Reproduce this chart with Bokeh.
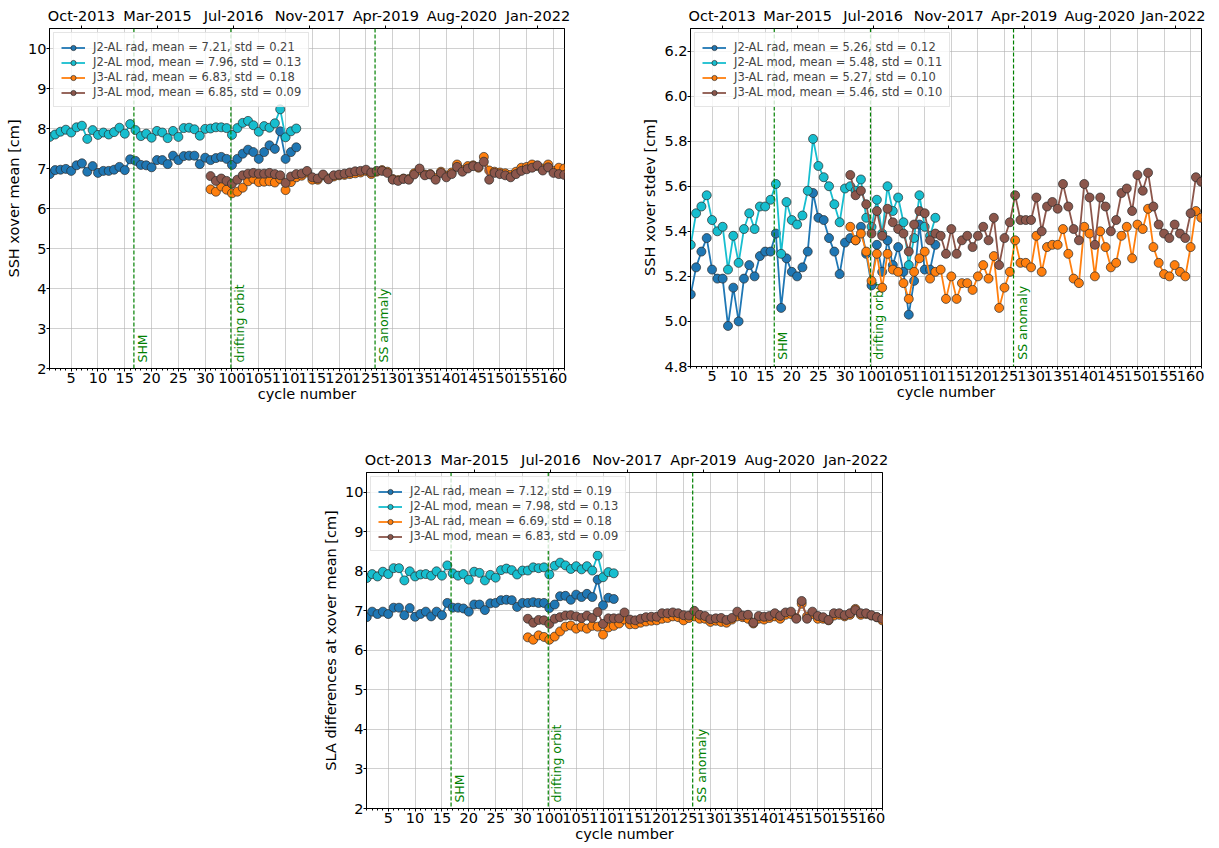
import math
from bokeh.plotting import figure
from bokeh.models import (Range1d, LinearAxis, FixedTicker, Legend, LegendItem,
                          Span, Spacer)
from bokeh.layouts import column, row
from bokeh.embed import file_html
from bokeh.resources import INLINE
from bokeh.core.properties import value

# ---------------- data ----------------
j2_cycles = list(range(1, 35)) + list(range(100, 113))
j3_cycles = list(range(31, 35)) + list(range(100, 163))

cycle_ticks = [5, 10, 15, 20, 25, 30, 100, 105, 110, 115, 120, 125, 130,
               135, 140, 145, 150, 155, 160]
date_labels = ["Oct-2013", "Mar-2015", "Jul-2016", "Nov-2017", "Apr-2019",
               "Aug-2020", "Jan-2022"]
date_tick_cycles = [6.9, 21.1, 100.3, 114.5, 128.7, 142.9, 157.1]
event_names = ["SHM", "drifting orbit", "SS anomaly"]
event_cycles = [16.7, 99.8, 126.7]
series_names = ["J2-AL rad", "J2-AL mod", "J3-AL rad", "J3-AL mod"]

# panel 1: SSH xover mean
p1_j2_rad = [6.86, 6.96, 6.97, 6.99, 6.94, 7.08, 7.13, 6.92, 7.06, 6.89,
             6.94, 6.94, 6.97, 7.04, 6.96, 7.23, 7.19, 7.09, 7.08, 7.03,
             7.21, 7.21, 7.11, 7.32, 7.21, 7.31, 7.32, 7.32, 7.11, 7.27,
             7.21, 7.26, 7.29, 7.24, 7.09, 7.24, 7.37, 7.47, 7.41, 7.24,
             7.41, 7.58, 7.49, 7.93, 7.24, 7.41, 7.53]
p1_j2_mod = [7.79, 7.85, 7.92, 7.97, 7.90, 8.03, 8.07, 7.74, 7.96, 7.84,
             7.90, 7.85, 7.91, 8.02, 7.87, 8.11, 7.96, 7.81, 7.87, 7.77,
             7.94, 7.90, 7.76, 7.94, 7.79, 8.01, 8.02, 7.98, 7.82, 7.99,
             8.00, 8.03, 8.03, 8.01, 7.84, 8.01, 8.14, 8.19, 8.08, 7.92,
             8.06, 8.02, 8.13, 8.48, 7.78, 7.93, 8.00]
p1_j3_rad = [6.48, 6.42, 6.55, 6.47, 6.38, 6.42, 6.52, 6.68, 6.74, 6.66,
             6.67, 6.68, 6.65, 6.74, 6.46, 6.66, 6.78, 6.82, 6.90, 6.72,
             6.72, 6.83, 6.75, 6.80, 6.83, 6.84, 6.86, 6.88, 6.90, 6.94,
             6.86, 6.92, 6.96, 6.92, 6.74, 6.71, 6.75, 6.74, 6.88, 6.96,
             6.85, 6.86, 6.76, 6.92, 6.82, 6.90, 7.10, 6.96, 7.06, 7.08,
             7.02, 7.29, 6.95, 6.92, 6.90, 6.88, 6.84, 6.92, 7.02, 7.04,
             7.10, 7.06, 7.00, 7.10, 6.94, 7.02, 7.00]
p1_j3_mod = [6.81, 6.69, 6.75, 6.69, 6.62, 6.72, 6.83, 6.87, 6.89, 6.87,
             6.87, 6.89, 6.86, 6.83, 6.64, 6.80, 6.86, 6.87, 6.94, 6.78,
             6.75, 6.85, 6.73, 6.83, 6.85, 6.87, 6.90, 6.93, 6.94, 6.97,
             6.90, 6.94, 6.94, 6.89, 6.72, 6.69, 6.74, 6.72, 6.85, 7.00,
             6.83, 6.85, 6.72, 6.89, 6.78, 6.86, 7.04, 6.92, 7.00, 7.06,
             7.04, 7.17, 6.72, 6.89, 6.86, 6.83, 6.78, 6.86, 6.94, 6.98,
             7.02, 7.08, 6.95, 7.03, 6.89, 6.86, 6.84]
p1_means = [7.21, 7.96, 6.83, 6.85]
p1_stds = [0.21, 0.13, 0.18, 0.09]

# panel 2: SSH xover stdev
p2_j2_rad = [5.12, 5.24, 5.31, 5.37, 5.23, 5.19, 5.19, 4.98, 5.15, 5.00,
             5.19, 5.25, 5.20, 5.29, 5.31, 5.31, 5.39, 5.06, 5.28, 5.22,
             5.20, 5.24, 5.31, 5.57, 5.46, 5.45, 5.37, 5.31, 5.21, 5.35,
             5.37, 5.36, 5.42, 5.30, 5.16, 5.34, 5.22, 5.36, 5.25, 5.33,
             5.22, 5.03, 5.18, 5.43, 5.23, 5.23, 5.34]
p2_j2_mod = [5.34, 5.48, 5.51, 5.56, 5.45, 5.40, 5.42, 5.23, 5.38, 5.26,
             5.41, 5.48, 5.41, 5.51, 5.51, 5.54, 5.61, 5.30, 5.53, 5.45,
             5.43, 5.47, 5.58, 5.81, 5.69, 5.64, 5.60, 5.52, 5.44, 5.59,
             5.60, 5.58, 5.63, 5.46, 5.42, 5.54, 5.39, 5.60, 5.49, 5.55,
             5.44, 5.25, 5.37, 5.56, 5.42, 5.38, 5.46]
p2_j3_rad = [5.42, 5.36, 5.39, 5.31, 5.18, 5.30, 5.15, 5.30, 5.23, 5.22,
             5.17, 5.10, 5.22, 5.28, 5.31, 5.19, 5.22, 5.23, 5.10, 5.20,
             5.10, 5.17, 5.17, 5.14, 5.20, 5.25, 5.19, 5.29, 5.06, 5.15,
             5.22, 5.36, 5.26, 5.26, 5.24, 5.38, 5.22, 5.33, 5.34, 5.34,
             5.41, 5.30, 5.19, 5.17, 5.42, 5.39, 5.20, 5.40, 5.33, 5.24,
             5.26, 5.38, 5.42, 5.28, 5.43, 5.41, 5.50, 5.33, 5.26, 5.21,
             5.20, 5.25, 5.22, 5.20, 5.33, 5.49, 5.46]
p2_j3_mod = [5.65, 5.56, 5.58, 5.52, 5.39, 5.49, 5.38, 5.50, 5.44, 5.41,
             5.39, 5.31, 5.43, 5.49, 5.48, 5.36, 5.39, 5.38, 5.30, 5.41,
             5.30, 5.36, 5.38, 5.33, 5.38, 5.42, 5.36, 5.46, 5.25, 5.37,
             5.44, 5.56, 5.45, 5.45, 5.45, 5.55, 5.40, 5.51, 5.53, 5.50,
             5.61, 5.51, 5.41, 5.36, 5.61, 5.55, 5.34, 5.55, 5.51, 5.40,
             5.45, 5.57, 5.59, 5.49, 5.65, 5.58, 5.66, 5.51, 5.43, 5.39,
             5.37, 5.43, 5.39, 5.37, 5.48, 5.64, 5.62]
p2_means = [5.26, 5.48, 5.27, 5.46]
p2_stds = [0.12, 0.11, 0.10, 0.10]

# panel 3: SLA differences at xover mean
p3_j2_rad = [6.84, 6.98, 6.92, 6.98, 6.92, 7.08, 7.08, 6.89, 7.07, 6.85,
             6.92, 6.98, 6.86, 6.98, 6.89, 7.20, 7.08, 7.08, 7.06, 6.98,
             7.16, 7.16, 7.02, 7.19, 7.20, 7.27, 7.28, 7.27, 7.10, 7.20,
             7.20, 7.22, 7.20, 7.20, 7.07, 7.16, 7.37, 7.38, 7.28, 7.41,
             7.35, 7.43, 7.35, 7.79, 7.14, 7.33, 7.30]
p3_j2_mod = [7.83, 7.93, 7.87, 7.99, 7.93, 8.08, 8.08, 7.77, 8.00, 7.87,
             7.92, 7.93, 7.89, 8.00, 7.89, 8.15, 7.95, 7.89, 7.93, 7.79,
             7.99, 7.96, 7.77, 7.91, 7.84, 8.03, 8.07, 8.03, 7.92, 8.02,
             8.02, 8.10, 8.08, 8.10, 7.92, 8.14, 8.22, 8.15, 8.06, 8.13,
             8.05, 8.13, 8.02, 8.40, 7.85, 7.98, 7.95]
p3_j3_rad = [6.33, 6.27, 6.38, 6.34, 6.27, 6.35, 6.48, 6.60, 6.63, 6.55,
             6.60, 6.55, 6.62, 6.60, 6.40, 6.58, 6.62, 6.68, 6.78, 6.66,
             6.66, 6.70, 6.73, 6.75, 6.76, 6.80, 6.82, 6.86, 6.84, 6.76,
             6.82, 6.86, 6.80, 6.80, 6.72, 6.75, 6.72, 6.70, 6.78, 6.86,
             6.84, 6.80, 6.68, 6.80, 6.78, 6.82, 6.86, 6.80, 6.90, 6.92,
             6.82, 7.18, 6.86, 6.92, 6.80, 6.80, 6.76, 6.88, 6.90, 6.86,
             6.90, 7.05, 6.90, 6.92, 6.88, 6.84, 6.76]
p3_j3_mod = [6.80, 6.70, 6.77, 6.76, 6.67, 6.80, 6.84, 6.88, 6.89, 6.86,
             6.82, 6.88, 6.82, 6.97, 6.67, 6.81, 6.81, 6.81, 6.96, 6.78,
             6.76, 6.80, 6.84, 6.85, 6.85, 6.94, 6.94, 6.96, 6.94, 6.89,
             6.88, 7.00, 6.90, 6.87, 6.79, 6.81, 6.82, 6.77, 6.82, 6.98,
             6.88, 6.90, 6.70, 6.87, 6.85, 6.87, 6.94, 6.87, 6.96, 6.98,
             6.80, 7.25, 6.80, 6.98, 6.87, 6.84, 6.77, 6.94, 6.94, 6.89,
             6.94, 7.02, 6.94, 6.94, 6.89, 6.84, 6.80]
p3_means = [7.12, 7.98, 6.69, 6.83]
p3_stds = [0.19, 0.13, 0.18, 0.09]

# ---------------- helpers ----------------
FONT = "DejaVu Sans"
COLORS = ["#1f77b4", "#17becf", "#ff7f0e", "#8c564b"]


def pos(c):
    # cycles of the drifting phase (>= 100) follow directly after cycle 34
    return c if c < 50 else c - 65


X0, X1 = 0.95, 97.05


def make_panel(ylabel, y0, y1, yticks, yfmt, data, means, stds, txt_y,
               b_left, b_right, b_top, b_bottom, fw, fh):
    p = figure(frame_width=fw, frame_height=fh, output_backend="svg",
               toolbar_location=None, x_range=Range1d(X0, X1),
               y_range=Range1d(y0, y1),
               min_border_left=b_left, min_border_right=b_right,
               min_border_top=b_top, min_border_bottom=b_bottom,
               background_fill_color="white", border_fill_color="white")
    p.outline_line_color = "black"
    p.outline_line_width = 1

    # bottom axis: cycle numbers
    xt = [pos(c) for c in cycle_ticks]
    minor = [float(v) for v in range(1, 98)]
    ax = p.xaxis[0]
    ax.ticker = FixedTicker(ticks=xt, minor_ticks=minor)
    ax.major_label_overrides = {pos(c): str(c) for c in cycle_ticks}
    ax.axis_label = "cycle number"

    # top axis: dates
    dpos = [pos(c) for c in date_tick_cycles]
    step = (dpos[-1] - dpos[0]) / (len(dpos) - 1)
    p.extra_x_ranges = {"dates": Range1d((X0 - dpos[0]) / step,
                                         (X1 - dpos[0]) / step)}
    top = LinearAxis(x_range_name="dates",
                     ticker=FixedTicker(ticks=list(range(len(date_labels)))),
                     major_label_overrides={i: l for i, l in enumerate(date_labels)})
    p.add_layout(top, "above")

    p.yaxis.ticker = FixedTicker(ticks=yticks)
    p.yaxis.major_label_overrides = {t: yfmt % t for t in yticks}
    p.yaxis.axis_label = ylabel

    for a in [ax, top, p.yaxis[0]]:
        a.major_label_text_font = FONT
        a.major_label_text_font_size = "14.5px"
        a.major_label_text_color = "black"
        a.axis_label_text_font = FONT
        a.axis_label_text_font_size = "14.5px"
        a.axis_label_text_font_style = "normal"
        a.axis_label_text_color = "black"
        a.axis_label_standoff = 2
        a.major_label_standoff = 2
        a.major_tick_in = 0
        a.major_tick_out = 3
        a.minor_tick_in = 0
        a.minor_tick_out = 2
        a.axis_line_color = "black"
        a.major_tick_line_color = "black"
        a.minor_tick_line_color = "black"
    ax.axis_label_standoff = 0
    ax.major_label_standoff = 1
    p.yaxis.major_label_standoff = 0
    p.yaxis.axis_label_standoff = 3
    top.minor_tick_line_color = None
    p.yaxis.minor_tick_line_color = None

    p.xgrid.ticker = FixedTicker(ticks=xt)
    p.ygrid.ticker = FixedTicker(ticks=yticks)
    for g in [p.xgrid, p.ygrid]:
        g.grid_line_color = "#b0b0b0"
        g.grid_line_alpha = 0.6
        g.grid_line_width = 1

    # event lines
    for c in event_cycles:
        p.add_layout(Span(location=pos(c), dimension="height",
                          line_color="green", line_dash="4 2",
                          line_width=1.2))
    p.text(x=[pos(c) for c in event_cycles], y=[txt_y] * len(event_cycles),
           text=event_names, angle=math.pi / 2, text_align="left",
           text_baseline="top", text_color="green", x_offset=1,
           text_font=value(FONT), text_font_size="12.5px")

    items = []
    xs_list = [j2_cycles, j2_cycles, j3_cycles, j3_cycles]
    for name, cyc, ys, col, m, s in zip(series_names, xs_list, data, COLORS,
                                        means, stds):
        xs = [pos(c) for c in cyc]
        lr = p.line(xs, ys, line_color=col, line_width=1.8)
        sr = p.scatter(xs, ys, marker="circle", size=9, fill_color=col,
                       line_color="#2a2a2a", line_width=0.7)
        items.append(LegendItem(
            label="%s, mean = %.2f, std = %.2f" % (name, m, s),
            renderers=[lr, sr]))
    leg = Legend(items=items, location="top_left")
    leg.label_text_font = FONT
    leg.label_text_font_size = "11.5px"
    leg.glyph_width = 24
    leg.glyph_height = 13
    leg.label_height = 13
    leg.spacing = 1
    leg.padding = 7
    leg.margin = 4
    leg.label_standoff = 8
    leg.border_line_color = "#cccccc"
    leg.background_fill_alpha = 0.8
    p.add_layout(leg)
    return p


p1 = make_panel("SSH xover mean [cm]", 2, 10.5, [2, 3, 4, 5, 6, 7, 8, 9, 10],
                "%d", [p1_j2_rad, p1_j2_mod, p1_j3_rad, p1_j3_mod],
                p1_means, p1_stds, 2.15, 49, 70, 28, 36, 515, 340)
p2 = make_panel("SSH xover stdev [cm]", 4.8, 6.3,
                [4.8, 5.0, 5.2, 5.4, 5.6, 5.8, 6.0, 6.2], "%.1f",
                [p2_j2_rad, p2_j2_mod, p2_j3_rad, p2_j3_mod],
                p2_means, p2_stds, 4.83, 56, 4, 28, 36, 511, 338)
p3 = make_panel("SLA differences at xover mean [cm]", 2, 10.5,
                [2, 3, 4, 5, 6, 7, 8, 9, 10], "%d",
                [p3_j2_rad, p3_j2_mod, p3_j3_rad, p3_j3_mod],
                p3_means, p3_stds, 2.15, 43, 8, 68, 36, 516, 336)

layout = column(row(p1, p2), row(Spacer(width=320, height=10), p3))

open("out.html", "w").write(file_html(layout, INLINE))
